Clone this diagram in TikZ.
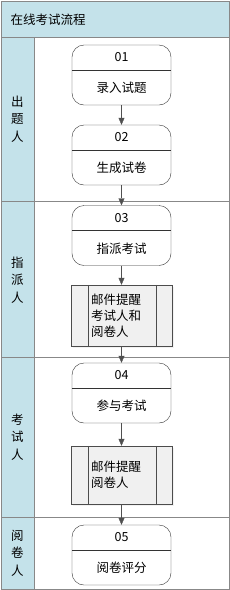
\documentclass[tikz,border=0pt]{standalone}
\usepackage{fontspec}
\setmainfont{Noto Sans CJK SC}
\usetikzlibrary{positioning, arrows.meta, calc, shadows}
\definecolor{lanefill}{HTML}{C4E2EA}
\definecolor{laneline}{HTML}{888888}
\definecolor{flowgray}{HTML}{505050}
\definecolor{subfill}{HTML}{F0F0F0}
\begin{document}
\begin{tikzpicture}[x=1pt, y=-1pt, font=\fontsize{12.5}{16}\selectfont,
    proc/.style={draw=black!80, rounded corners=12pt, fill=white,
                 minimum width=99pt, minimum height=60pt, inner sep=0pt},
    sub/.style={draw=black!70, fill=subfill, minimum width=101pt, inner sep=0pt,
                drop shadow={shadow xshift=1.5pt, shadow yshift=-1.5pt, opacity=0.1}},
    flow/.style={flowgray, -{Triangle[length=7pt, width=6pt]}},
    lanetxt/.style={align=center, font=\fontsize{12.5}{17.5}\selectfont}]
    \useasboundingbox (0,0) rectangle (230,590);
    % swimlane frame
    \fill[lanefill] (1,1) rectangle (229,37);
    \fill[lanefill] (1,37) rectangle (34,589);
    \draw[laneline] (1,1) rectangle (229,589);
    \draw[laneline] (1,37) -- (229,37);
    \draw[laneline] (34,37) -- (34,589);
    \draw[laneline] (1,201) -- (229,201);
    \draw[laneline] (1,357) -- (229,357);
    \draw[laneline] (1,517) -- (229,517);
    \node[anchor=west] (title) at (7,19.5) {在线考试流程};
    \node[lanetxt] (lane1) at (17.5,119) {出\\题\\人};
    \node[lanetxt] (lane2) at (17.5,280) {指\\派\\人};
    \node[lanetxt] (lane3) at (17.5,437) {考\\试\\人};
    \node[lanetxt] (lane4) at (17.5,553) {阅\\卷\\人};
    % process steps
    \foreach \n/\y/\num/\txt in {p1/75/01/录入试题, p2/155/02/生成试卷,
        p3/235.5/03/指派考试, p4/393/04/参与考试, p5/555/05/阅卷评分} {
      \node[proc] (\n) at (121.5,\y) {};
      \draw[black!80] ([yshift=-25pt]\n.north west) -- ([yshift=-25pt]\n.north east);
      \node (\n num) at ([yshift=-12.5pt]\n.north) {\num};
      \node (\n txt) at ([yshift=17pt]\n.south) {\txt};
    }
    % mail notices
    \node[sub, minimum height=61pt] (m1) at (121.5,315.5) {};
    \node[sub, minimum height=58pt] (m2) at (121.5,475) {};
    \foreach \m in {m1, m2} {
      \draw[black!70] ([xshift=17pt]\m.north west) -- ([xshift=17pt]\m.south west);
      \draw[black!70] ([xshift=-16pt]\m.north east) -- ([xshift=-16pt]\m.south east);
    }
    \node[anchor=west, align=left, inner sep=0pt] (m1txt) at ([xshift=20pt]m1.west)
      {邮件提醒\\考试人和\\阅卷人};
    \node[anchor=west, align=left, inner sep=0pt] (m2txt) at ([xshift=20pt]m2.west)
      {邮件提醒\\阅卷人};
    % connectors
    \draw[flow] (p1) -- (p2);
    \draw[flow] (p2) -- (p3);
    \draw[flow] (p3) -- (m1);
    \draw[flow] (m1) -- (p4);
    \draw[flow] (p4) -- (m2);
    \draw[flow] (m2) -- (p5);
  \end{tikzpicture}
\end{document}
